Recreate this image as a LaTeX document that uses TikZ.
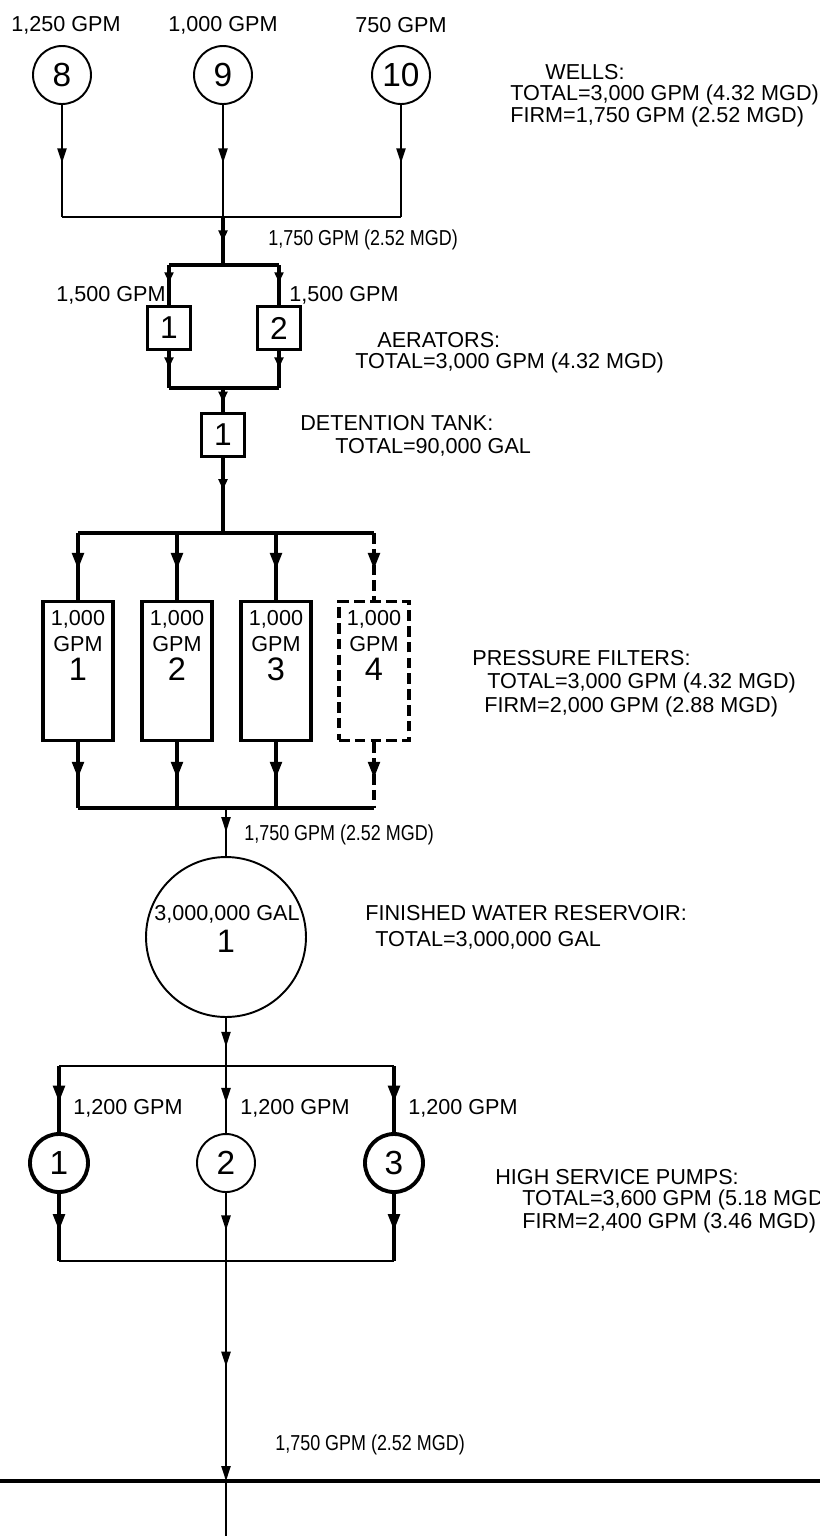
\documentclass[tikz,border=0pt]{standalone}
\usepackage{fontspec}
\setmainfont{Liberation Sans}
\usepackage{graphicx}
\usetikzlibrary{
  arrows.meta,
  positioning,
  decorations.markings
}
\definecolor{ink}{HTML}{000000}
\newcommand{\narrowtxt}[1]{\scalebox{0.83}[1]{#1}}
\tikzset{
  bigtip/.tip={Triangle[length=9.5pt,width=6.5pt]},
  midtip/.tip={Triangle[length=8.5pt,width=5.2pt]},
  smalltip/.tip={Triangle[length=6pt,width=5pt]},
  pipe/.style={draw=ink, line width=1.1pt},
  mainpipe/.style={draw=ink, line width=2.2pt},
  spare/.style={dash pattern=on 6pt off 3pt},
  flow/.style 2 args={
    postaction={decorate},
    decoration={markings, mark=at position #1 with {\arrow{#2}}}
  },
  well/.style={
    circle, draw=ink, line width=1.1pt, minimum size=1.16cm, inner sep=0pt,
    font=\fontsize{19}{19}\selectfont
  },
  pump/.style={well, line width=#1},
  unitbox/.style={
    rectangle, draw=ink, line width=2.2pt, minimum width=0.86cm,
    minimum height=0.86cm, inner sep=0pt, font=\fontsize{18}{18}\selectfont
  },
  filterbox/.style={
    rectangle, draw=ink, line width=2.2pt, minimum width=1.4cm,
    minimum height=2.78cm, inner sep=0pt
  },
  reservoir/.style={
    circle, draw=ink, line width=1.1pt, minimum size=3.2cm, inner sep=0pt
  },
  rate/.style={font=\fontsize{12.3}{14.8}\selectfont, inner sep=0pt},
  bignum/.style={font=\fontsize{18.5}{18.5}\selectfont, inner sep=0pt},
  annot/.style={font=\fontsize{12.3}{14.8}\selectfont, inner sep=0pt, anchor=west},
}

\begin{document}
\begin{tikzpicture}[x=0.02cm, y=-0.02cm]
  \useasboundingbox (0,0) rectangle (820,1536);

  % wells
  \node[well] (w8)  at (62,75)  {8};
  \node[well] (w9)  at (223,75) {9};
  \node[well] (w10) at (401,75) {10};
  \node[rate] (q8)  at (66,25)  {1,250 GPM};
  \node[rate] (q9)  at (223,25) {1,000 GPM};
  \node[rate] (q10) at (401,25) {750 GPM};
  \coordinate (j8)  at (62,217);
  \coordinate (j9)  at (223,217);
  \coordinate (j10) at (401,217);
  \draw[pipe, flow={0.52}{midtip}] (w8.south) -- (j8);
  \draw[pipe, flow={0.52}{midtip}] (w9.south) -- (j9);
  \draw[pipe, flow={0.52}{midtip}] (w10.south) -- (j10);
  \draw[pipe] (j8) -- (j10);

  % aerators
  \coordinate (a0) at (223,265);
  \coordinate (a1) at (169,265);
  \coordinate (a2) at (279,265);
  \draw[mainpipe, flow={0.5}{smalltip}] (j9) -- (a0);
  \node[rate, anchor=west] (qa) at (268,240) {\narrowtxt{1,750 GPM (2.52 MGD)}};
  \draw[mainpipe] (a1) -- (a2);
  \node[unitbox] (ae1) at (169,328) {1};
  \node[unitbox] (ae2) at (279,328) {2};
  \node[rate, anchor=east] (qa1) at (166,295) {1,500 GPM};
  \node[rate, anchor=west] (qa2) at (289,295) {1,500 GPM};
  \coordinate (b0) at (223,388);
  \coordinate (b1) at (169,388);
  \coordinate (b2) at (279,388);
  \draw[mainpipe, flow={0.45}{smalltip}] (a1) -- (ae1.north);
  \draw[mainpipe, flow={0.45}{smalltip}] (a2) -- (ae2.north);
  \draw[mainpipe, flow={0.45}{smalltip}] (ae1.south) -- (b1);
  \draw[mainpipe, flow={0.45}{smalltip}] (ae2.south) -- (b2);
  \draw[mainpipe] (b1) -- (b2);

  % detention tank
  \node[unitbox] (dt) at (223,435) {1};
  \draw[mainpipe, flow={0.6}{smalltip}] (b0) -- (dt.north);

  % pressure filters
  \coordinate (c0) at (223,533);
  \draw[mainpipe, flow={0.42}{smalltip}] (dt.south) -- (c0);
  \foreach \i/\x in {1/78,2/177,3/276,4/374} {
    \coordinate (c\i) at (\x,533);
    \coordinate (d\i) at (\x,808);
  }
  \foreach \i in {1,2,3} {
    \node[filterbox] (f\i) at (c\i |- 0,671) {};
    \draw[mainpipe, flow={0.55}{bigtip}] (c\i) -- (f\i.north);
    \draw[mainpipe, flow={0.55}{bigtip}] (f\i.south) -- (d\i);
  }
  \node[filterbox, spare] (f4) at (c4 |- 0,671) {};
  \draw[mainpipe, spare, flow={0.55}{bigtip}] (c4) -- (f4.north);
  \draw[mainpipe, spare, flow={0.55}{bigtip}] (f4.south) -- (d4);
  \foreach \i in {1,2,3,4} {
    \node[rate, align=center, below=6pt of f\i.north] (ft\i) {1,000\\GPM};
    \node[bignum, below=3pt of ft\i] (fn\i) {\i};
  }
  \draw[mainpipe] (c1) -- (c4);
  \draw[mainpipe] (d1) -- (d4);

  % finished water reservoir
  \coordinate (e0) at (226,808);
  \node[reservoir] (res) at (226,937) {};
  \node[rate] (rescap) at (227,914) {3,000,000 GAL};
  \node[bignum] (resnum) at (226,941) {1};
  \draw[pipe, flow={0.5}{midtip}] (e0) -- (res.north);
  \node[rate, anchor=west] (qe) at (244,835) {\narrowtxt{1,750 GPM (2.52 MGD)}};

  % high service pumps
  \coordinate (g0) at (226,1066);
  \coordinate (g1) at (59,1066);
  \coordinate (g2) at (226,1066);
  \coordinate (g3) at (394,1066);
  \draw[pipe, flow={0.6}{midtip}] (res.south) -- (g0);
  \draw[pipe] (g1) -- (g3);
  \node[pump=2.2pt] (p1) at (59,1163)  {1};
  \node[pump=1.1pt] (p2) at (226,1163) {2};
  \node[pump=2.2pt] (p3) at (394,1163) {3};
  \node[rate, anchor=west] (qp1) at (73,1108)  {1,200 GPM};
  \node[rate, anchor=west] (qp2) at (240,1108) {1,200 GPM};
  \node[rate, anchor=west] (qp3) at (408,1108) {1,200 GPM};
  \coordinate (h1) at (59,1261);
  \coordinate (h2) at (226,1261);
  \coordinate (h3) at (394,1261);
  \draw[mainpipe, flow={0.55}{bigtip}] (g1) -- (p1.north);
  \draw[pipe, flow={0.55}{midtip}] (g2) -- (p2.north);
  \draw[mainpipe, flow={0.55}{bigtip}] (g3) -- (p3.north);
  \draw[mainpipe, flow={0.55}{bigtip}] (p1.south) -- (h1);
  \draw[pipe, flow={0.55}{midtip}] (p2.south) -- (h2);
  \draw[mainpipe, flow={0.55}{bigtip}] (p3.south) -- (h3);
  \draw[pipe] (h1) -- (h3);

  % distribution
  \coordinate (k0) at (226,1481);
  \coordinate (kl) at (0,1481);
  \coordinate (kr) at (820,1481);
  \coordinate (kend) at (226,1536);
  \draw[pipe, -midtip, flow={0.48}{midtip}] (h2) -- (k0);
  \draw[pipe] (k0) -- (kend);
  \draw[draw=ink, line width=1.8pt] (kl) -- (kr);
  \node[rate, anchor=west] (qk) at (275,1445) {\narrowtxt{1,750 GPM (2.52 MGD)}};

  % notes
  \node[annot] (nw1) at (545,72)  {WELLS:};
  \node[annot] (nw2) at (510,95)  {TOTAL=3,000 GPM (4.32 MGD)};
  \node[annot] (nw3) at (510,117) {FIRM=1,750 GPM (2.52 MGD)};
  \node[annot] (na1) at (377,340) {AERATORS:};
  \node[annot] (na2) at (355,363) {TOTAL=3,000 GPM (4.32 MGD)};
  \node[annot] (nd1) at (300,423) {DETENTION TANK:};
  \node[annot] (nd2) at (335,447) {TOTAL=90,000 GAL};
  \node[annot] (nf1) at (472,658) {PRESSURE FILTERS:};
  \node[annot] (nf2) at (487,683) {TOTAL=3,000 GPM (4.32 MGD)};
  \node[annot] (nf3) at (484,707) {FIRM=2,000 GPM (2.88 MGD)};
  \node[annot] (nr1) at (365,913) {FINISHED WATER RESERVOIR:};
  \node[annot] (nr2) at (375,940) {TOTAL=3,000,000 GAL};
  \node[annot] (np1) at (495,1177) {HIGH SERVICE PUMPS:};
  \node[annot] (np2) at (522,1200) {TOTAL=3,600 GPM (5.18 MGD)};
  \node[annot] (np3) at (522,1223) {FIRM=2,400 GPM (3.46 MGD)};
\end{tikzpicture}
\end{document}
